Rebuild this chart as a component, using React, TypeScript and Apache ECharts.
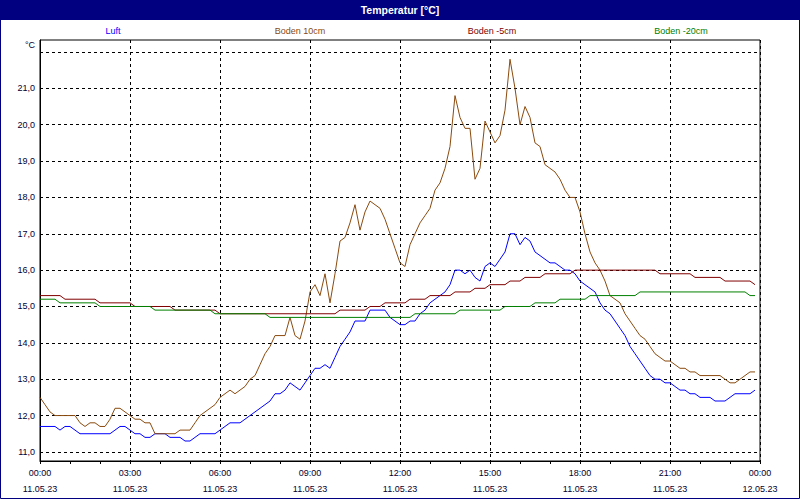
import React, { useEffect, useRef } from "react";
import * as echarts from "echarts";

// ---- data (10-minute readings, 00:00 .. 23:50) ----
const DAY = "11.05.23";
const NEXT_DAY = "12.05.23";

// categories 00:00 .. 24:00 in 10-minute steps
const times: string[] = [];
for (let i = 0; i <= 144; i++) {
  const m = i * 10;
  const hh = String(Math.floor(m / 60) % 24).padStart(2, "0");
  const mm = String(m % 60).padStart(2, "0");
  times.push(`${hh}:${mm}|${i === 144 ? NEXT_DAY : DAY}`);
}

const luft = [
  11.7, 11.7, 11.7, 11.7, 11.6, 11.7,
  11.7, 11.6, 11.5, 11.5, 11.5, 11.5,
  11.5, 11.5, 11.5, 11.6, 11.7, 11.7,
  11.6, 11.5, 11.5, 11.4, 11.4, 11.5,
  11.5, 11.5, 11.4, 11.4, 11.4, 11.3,
  11.3, 11.4, 11.5, 11.5, 11.5, 11.5,
  11.6, 11.7, 11.8, 11.8, 11.8, 11.9,
  12.0, 12.1, 12.2, 12.3, 12.4, 12.6,
  12.6, 12.7, 12.9, 12.8, 12.7, 12.9,
  13.1, 13.3, 13.3, 13.4, 13.3, 13.6,
  13.9, 14.1, 14.3, 14.6, 14.6, 14.6,
  14.9, 14.9, 14.9, 14.9, 14.7, 14.6,
  14.5, 14.5, 14.6, 14.6, 14.8, 14.9,
  15.1, 15.2, 15.3, 15.4, 15.6, 16.0,
  16.0, 15.9, 16.0, 15.8, 15.7, 16.1,
  16.2, 16.1, 16.3, 16.5, 17.0, 17.0,
  16.7, 16.9, 16.8, 16.5, 16.4, 16.3,
  16.2, 16.2, 16.1, 16.0, 16.0, 15.9,
  15.7, 15.6, 15.5, 15.4, 15.1, 14.9,
  14.8, 14.6, 14.4, 14.2, 13.9, 13.7,
  13.5, 13.3, 13.1, 13.0, 13.0, 12.9,
  12.9, 12.8, 12.7, 12.7, 12.6, 12.6,
  12.5, 12.5, 12.5, 12.4, 12.4, 12.4,
  12.5, 12.6, 12.6, 12.6, 12.6, 12.7,
];

const boden10 = [
  12.5, 12.3, 12.1, 12.0, 12.0, 12.0,
  12.0, 12.0, 11.8, 11.7, 11.8, 11.8,
  11.7, 11.7, 11.9, 12.2, 12.2, 12.1,
  12.0, 11.9, 11.9, 11.8, 11.8, 11.5,
  11.5, 11.5, 11.5, 11.5, 11.6, 11.6,
  11.6, 11.8, 12.0, 12.1, 12.2, 12.3,
  12.5, 12.6, 12.7, 12.6, 12.7, 12.8,
  13.0, 13.1, 13.4, 13.7, 13.9, 14.2,
  14.2, 14.2, 14.7, 14.2, 14.1, 14.6,
  15.4, 15.6, 15.3, 15.9, 15.1, 15.9,
  16.8, 16.9, 17.3, 17.8, 17.1, 17.6,
  17.9, 17.8, 17.7, 17.4, 17.0, 16.6,
  16.2, 16.1, 16.7, 17.0, 17.3, 17.5,
  17.7, 18.2, 18.4, 18.8, 19.4, 20.8,
  20.2, 19.9, 19.9, 18.5, 18.8, 20.1,
  19.8, 19.5, 19.7, 20.4, 21.8, 21.0,
  20.0, 20.5, 20.2, 19.5, 19.4, 18.9,
  18.8, 18.7, 18.5, 18.2, 18.0, 18.0,
  17.6, 17.0, 16.5, 16.2, 16.0, 15.7,
  15.3, 15.2, 15.1, 14.8, 14.6, 14.4,
  14.2, 14.1, 13.9, 13.7, 13.6, 13.5,
  13.5, 13.4, 13.3, 13.3, 13.2, 13.2,
  13.1, 13.1, 13.1, 13.1, 13.1, 13.0,
  12.9, 12.9, 13.0, 13.1, 13.2, 13.2,
];

const bodenMinus5 = [
  15.3, 15.3, 15.3, 15.3, 15.3, 15.2,
  15.2, 15.2, 15.2, 15.2, 15.2, 15.2,
  15.1, 15.1, 15.1, 15.1, 15.1, 15.1,
  15.1, 15.0, 15.0, 15.0, 15.0, 15.0,
  15.0, 15.0, 15.0, 14.9, 14.9, 14.9,
  14.9, 14.9, 14.9, 14.9, 14.9, 14.9,
  14.8, 14.8, 14.8, 14.8, 14.8, 14.8,
  14.8, 14.8, 14.8, 14.8, 14.8, 14.8,
  14.8, 14.8, 14.8, 14.8, 14.8, 14.8,
  14.8, 14.8, 14.8, 14.8, 14.8, 14.8,
  14.9, 14.9, 14.9, 14.9, 14.9, 14.9,
  15.0, 15.0, 15.0, 15.1, 15.1, 15.1,
  15.1, 15.1, 15.2, 15.2, 15.2, 15.2,
  15.3, 15.3, 15.3, 15.3, 15.3, 15.4,
  15.4, 15.4, 15.4, 15.5, 15.5, 15.5,
  15.6, 15.6, 15.6, 15.6, 15.7, 15.7,
  15.7, 15.8, 15.8, 15.8, 15.8, 15.9,
  15.9, 15.9, 15.9, 15.9, 15.9, 16.0,
  16.0, 16.0, 16.0, 16.0, 16.0, 16.0,
  16.0, 16.0, 16.0, 16.0, 16.0, 16.0,
  16.0, 16.0, 16.0, 16.0, 15.9, 15.9,
  15.9, 15.9, 15.9, 15.9, 15.9, 15.8,
  15.8, 15.8, 15.8, 15.8, 15.8, 15.7,
  15.7, 15.7, 15.7, 15.7, 15.7, 15.6,
];

const bodenMinus20 = [
  15.2, 15.2, 15.2, 15.2, 15.1, 15.1,
  15.1, 15.1, 15.1, 15.1, 15.1, 15.1,
  15.0, 15.0, 15.0, 15.0, 15.0, 15.0,
  15.0, 15.0, 15.0, 15.0, 15.0, 14.9,
  14.9, 14.9, 14.9, 14.9, 14.9, 14.9,
  14.9, 14.9, 14.9, 14.9, 14.9, 14.8,
  14.8, 14.8, 14.8, 14.8, 14.8, 14.8,
  14.8, 14.8, 14.8, 14.8, 14.7, 14.7,
  14.7, 14.7, 14.7, 14.7, 14.7, 14.7,
  14.7, 14.7, 14.7, 14.7, 14.7, 14.7,
  14.7, 14.7, 14.7, 14.7, 14.7, 14.7,
  14.7, 14.7, 14.7, 14.7, 14.7, 14.7,
  14.7, 14.7, 14.7, 14.8, 14.8, 14.8,
  14.8, 14.8, 14.8, 14.8, 14.8, 14.8,
  14.9, 14.9, 14.9, 14.9, 14.9, 14.9,
  14.9, 14.9, 14.9, 15.0, 15.0, 15.0,
  15.0, 15.0, 15.0, 15.1, 15.1, 15.1,
  15.1, 15.1, 15.2, 15.2, 15.2, 15.2,
  15.2, 15.2, 15.3, 15.3, 15.3, 15.3,
  15.3, 15.3, 15.3, 15.3, 15.3, 15.3,
  15.4, 15.4, 15.4, 15.4, 15.4, 15.4,
  15.4, 15.4, 15.4, 15.4, 15.4, 15.4,
  15.4, 15.4, 15.4, 15.4, 15.4, 15.4,
  15.4, 15.4, 15.4, 15.4, 15.3, 15.3,
];

const seriesNames = ["Luft", "Boden 10cm", "Boden -5cm", "Boden -20cm"];
const seriesColors = ["#0000ff", "#8a4a0e", "#800000", "#008000"];
const yLabelValues = [11, 12, 13, 14, 15, 16, 17, 18, 19, 20, 21];
const yGridValues = [11, 12, 13, 14, 15, 16, 17, 18, 19, 20, 21, 22];
const legendCenters = [113, 300, 492, 681];

const FONT = '"Liberation Sans", Arial, sans-serif';
const TEXT = "#000033";

export default function App() {
  const ref = useRef<HTMLDivElement>(null);
  useEffect(() => {
    if (!ref.current) return;
    const chart = echarts.init(ref.current, null, { renderer: "svg" });
    const dataSets = [luft, boden10, bodenMinus5, bodenMinus20];
    chart.setOption({
      animation: false,
      backgroundColor: "#ffffff",
      textStyle: { fontFamily: FONT },
      graphic: [
        {
          type: "rect",
          shape: { x: 0, y: 0, width: 800, height: 20 },
          style: { fill: "#000080" },
          silent: true,
        },
        {
          type: "rect",
          shape: { x: 0.5, y: 0.5, width: 799, height: 498 },
          style: { fill: "none", stroke: "#000080", lineWidth: 1 },
          silent: true,
        },
        {
          type: "text",
          x: 400,
          y: 10,
          style: {
            text: "Temperatur [°C]",
            fill: "#ffffff",
            font: `bold 10.5px ${FONT}`,
            align: "center",
            verticalAlign: "middle",
          },
        },
        ...seriesNames.map((n, i) => ({
          type: "text",
          x: legendCenters[i],
          y: 31,
          style: {
            text: n,
            fill: seriesColors[i],
            font: `9px ${FONT}`,
            align: "center",
            verticalAlign: "middle",
          },
        })),
      ],
      grid: {
        left: 40,
        right: 40,
        top: 40,
        bottom: 39,
        show: true,
        borderColor: "#000",
        borderWidth: 1,
        backgroundColor: "transparent",
      },
      xAxis: {
        type: "category",
        data: times,
        boundaryGap: false,
        axisLine: { lineStyle: { color: "#000", width: 1 } },
        axisTick: { show: true, interval: 5, length: 3, lineStyle: { color: "#000" } },
        axisLabel: {
          interval: 17,
          margin: 4,
          lineHeight: 16,
          fontSize: 9,
          fontFamily: FONT,
          color: TEXT,
          formatter: (v: string) => v.replace("|", "\n"),
        },
        splitLine: {
          show: true,
          interval: 17,
          lineStyle: { color: "#000", type: [3, 3], width: 1 },
        },
      },
      yAxis: {
        type: "value",
        min: 10.75,
        max: 22.33,
        name: "°C",
        nameLocation: "end",
        nameGap: -5,
        nameTextStyle: {
          align: "right",
          verticalAlign: "middle",
          padding: [0, 5, 0, 0],
          fontSize: 9,
          fontFamily: FONT,
          color: TEXT,
        },
        axisLine: { show: true, lineStyle: { color: "#000", width: 1 } },
        axisTick: { show: false, customValues: yGridValues },
        axisLabel: {
          customValues: yLabelValues,
          margin: 5,
          fontSize: 9,
          fontFamily: FONT,
          color: TEXT,
          formatter: (v: number) => v.toFixed(1).replace(".", ","),
        },
        splitLine: {
          show: true,
          lineStyle: { color: "#000", type: [3, 3], width: 1 },
        },
      },
      series: seriesNames.map((n, i) => ({
        name: n,
        type: "line",
        data: dataSets[i],
        showSymbol: false,
        symbol: "none",
        lineStyle: { color: seriesColors[i], width: 1 },
        itemStyle: { color: seriesColors[i] },
        emphasis: { disabled: true },
      })),
    });
    return () => chart.dispose();
  }, []);
  return (
    <div
      ref={ref}
      style={{ position: "absolute", left: 0, top: 0, width: 800, height: 500 }}
    />
  );
}
